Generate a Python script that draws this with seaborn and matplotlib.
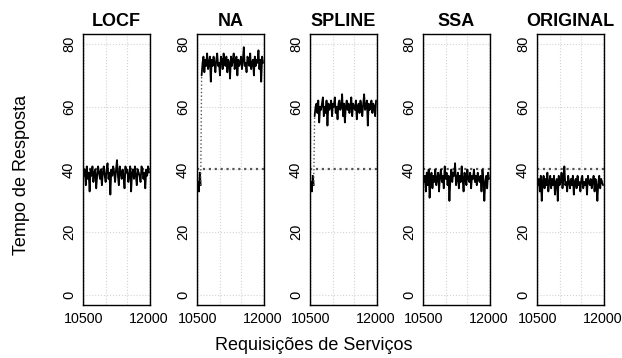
import numpy as np
import matplotlib
matplotlib.use("Agg")
import matplotlib.pyplot as plt
import matplotlib.transforms as mtransforms
import seaborn as sns

sns.set_style("white")
plt.rcParams['font.family'] = ['Liberation Sans', 'DejaVu Sans']
plt.rcParams['text.color'] = 'black'
plt.rcParams['xtick.color'] = 'black'
plt.rcParams['ytick.color'] = 'black'

titles = ["LOCF", "NA", "SPLINE", "SSA", "ORIGINAL"]
threshold = 40
x_start, x_end = 10500, 12000
y_ticks = [0, 20, 40, 60, 80]
x_ticks = [10500, 11000, 11500, 12000]
x_labels = ["10500", "", "", "12000"]

locf = [38, 40, 35, 41, 37, 39, 33, 40, 38, 41, 36, 39, 40, 34, 38, 41, 39, 37, 40, 35,
        39, 41, 38, 36, 40, 42, 37, 39, 32, 40, 38, 41, 39, 36, 40, 43, 38, 35, 41, 39,
        37, 40, 38, 34, 41, 39, 40, 36, 38, 41, 33, 39, 40, 37, 41, 38, 35, 40, 39, 38,
        36, 41, 40, 37, 39, 34, 40, 38, 41, 39]

na_low = [36, 33, 39, 35]
na_high = [70, 74, 76, 71, 75, 73, 77, 72, 74, 76, 68, 75, 73, 76, 74, 71, 75, 77, 73, 74,
           70, 76, 75, 72, 77, 74, 73, 76, 71, 75, 74, 69, 76, 73, 75, 77, 72, 74, 76, 70,
           75, 73, 74, 76, 72, 75, 79, 73, 74, 71, 76, 75, 73, 77, 72, 74, 75, 70, 76, 73,
           75, 74, 78, 72, 75, 68, 76, 74]

spline_low = [36, 33, 38, 35]
spline_high = [57, 60, 61, 58, 62, 55, 60, 59, 61, 63, 57, 60, 58, 62, 54, 61, 59, 60, 62, 57,
               61, 60, 63, 58, 60, 56, 61, 62, 59, 60, 64, 57, 61, 55, 60, 62, 59, 61, 58, 60,
               63, 57, 61, 60, 59, 62, 56, 60, 61, 58, 62, 60, 57, 61, 64, 59, 60, 62, 54, 61,
               59, 60, 62, 58, 61, 60, 57, 62]

ssa = [36, 38, 33, 39, 35, 40, 31, 37, 39, 34, 38, 36, 40, 35, 37, 39, 33, 38, 40, 36,
       38, 34, 41, 37, 39, 35, 38, 30, 37, 40, 36, 39, 38, 42, 35, 37, 39, 34, 38, 36,
       41, 37, 33, 39, 38, 35, 40, 37, 36, 39, 34, 38, 37, 40, 36, 38, 35, 39, 37, 36,
       38, 33, 40, 37, 30, 36, 38, 34, 39, 37]

original = [35, 37, 33, 38, 30, 36, 38, 34, 37, 35, 39, 33, 36, 38, 34, 37, 35, 38, 32, 36,
            37, 30, 38, 35, 36, 39, 34, 37, 41, 35, 36, 33, 38, 36, 34, 37, 35, 38, 32, 36,
            37, 34, 38, 35, 36, 33, 37, 38, 34, 36, 35, 37, 32, 38, 36, 35, 37, 34, 36, 38,
            33, 37, 35, 30, 36, 38, 34, 37, 36, 35]

series = [(locf, []), (na_low, na_high), (spline_low, spline_high), (ssa, []), (original, [])]

W, H = 622, 358
fig = plt.figure(figsize=(W / 100, H / 100), dpi=100)
lefts = [83, 197, 310, 423, 537]
pw, top, bottom = 67, 34, 305
shift = mtransforms.ScaledTranslation(-2.5 / 100, 0, fig.dpi_scale_trans)

for i, (title, (a, b)) in enumerate(zip(titles, series)):
    ax = fig.add_axes([lefts[i] / W, (H - bottom) / H, pw / W, (bottom - top) / H])
    vals = list(a) + list(b)
    xs = np.linspace(x_start, x_end, len(vals))
    ax.grid(True, color="#d3d3d3", ls=":", lw=0.8)
    ax.axhline(threshold, color="#555555", ls=":", lw=1.6, zorder=2)
    if b:
        n = len(a)
        sns.lineplot(x=xs[:n], y=vals[:n], ax=ax, color="black", lw=1.3, estimator=None, zorder=3)
        sns.lineplot(x=xs[n - 1:n + 1], y=vals[n - 1:n + 1], ax=ax, color="#555555", lw=1.0,
                     ls=":", estimator=None, zorder=3)
        sns.lineplot(x=xs[n:], y=vals[n:], ax=ax, color="black", lw=1.3, estimator=None, zorder=3)
    else:
        sns.lineplot(x=xs, y=vals, ax=ax, color="black", lw=1.3, estimator=None, zorder=3)
    ax.set_xlim(10478, 12022)
    ax.set_ylim(-3.2, 83.2)
    ax.set_yticks(y_ticks)
    ax.set_yticklabels([str(t) for t in y_ticks], rotation=90, va="center", fontsize=10.5)
    ax.set_xticks(x_ticks)
    ax.set_xticklabels(x_labels, fontsize=10.3)
    lab = ax.get_xticklabels()[-1]
    lab.set_transform(lab.get_transform() + shift)
    ax.tick_params(axis="both", direction="out", length=3, width=0.8, pad=2, colors="black")
    for s in ax.spines.values():
        s.set_color("black")
        s.set_linewidth(1.0)
    ax.set_xlabel("")
    ax.set_ylabel("")
    ax.set_title(title, fontsize=13, fontweight="bold", pad=6, color="black")

fig.text(314 / W, 1 - 345 / H, "Requisições de Serviços", ha="center", va="center", fontsize=13)
fig.text(22 / W, 1 - 175 / H, "Tempo de Resposta", ha="center", va="center", rotation=90, fontsize=13)

fig.savefig("out.png", dpi=100)
